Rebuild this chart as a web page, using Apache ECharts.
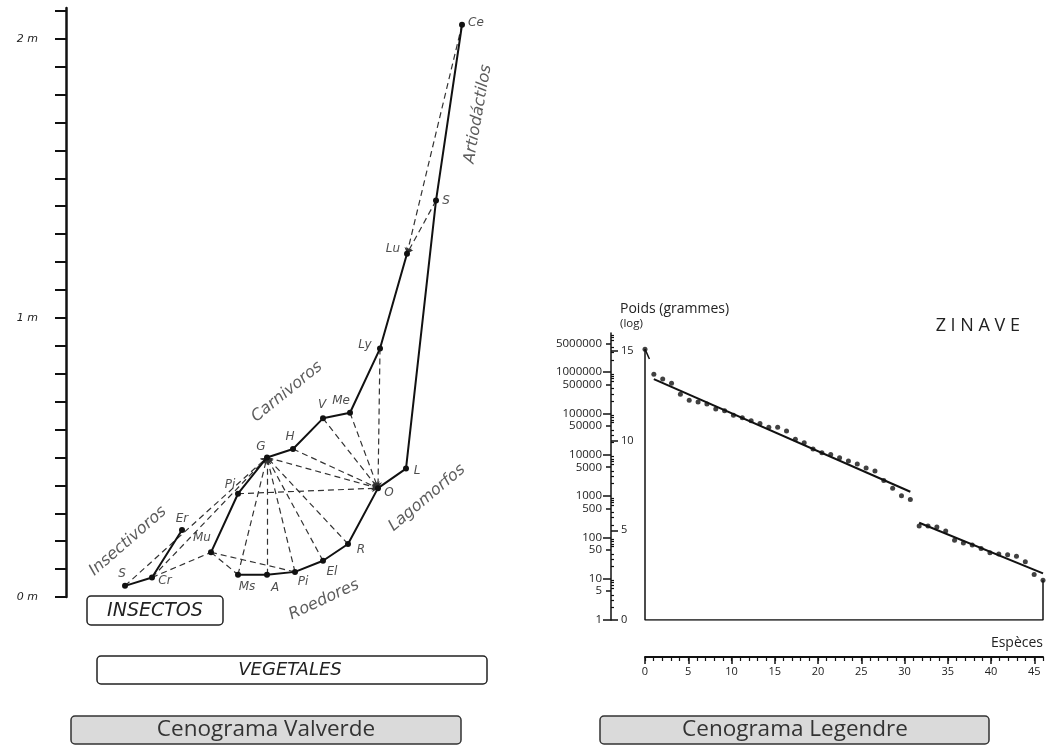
<!DOCTYPE html>
<html><head><meta charset="utf-8">
<script src="https://cdn.jsdelivr.net/npm/echarts@6/dist/echarts.min.js"></script>
<style>html,body{margin:0;padding:0;background:#fff}#c{width:1049px;height:753px}</style>
</head><body><div id="c"></div>
<script>
// ================= Cenograma Valverde (left) =================
const nodeIds     = ['S1','Cr','Er','Mu','Pi1','G','H','V','Me','Ly','Lu','Ms','A','Pi2','El','R','O','L','S2','Ce'];
const nodeNames   = ['S','Cr','Er','Mu','Pi','G','H','V','Me','Ly','Lu','Ms','A','Pi','El','R','O','L','S','Ce'];
const nodeRank    = [5.9,8.6,11.6,14.5,17.2,20.1,22.7,25.7,28.4,31.4,34.1,17.2,20.1,22.9,25.7,28.2,31.2,34.0,37.0,39.6];
const nodeHeightM = [0.04,0.07,0.24,0.16,0.37,0.50,0.53,0.64,0.66,0.89,1.23,0.08,0.08,0.09,0.13,0.19,0.39,0.46,1.42,2.05];

const chainInsectivores = ['S1','Cr','Er'];
const chainCarnivores   = ['Mu','Pi1','G','H','V','Me','Ly','Lu'];
const chainHerbivores   = ['Ms','A','Pi2','El','R','O','L','S2','Ce'];

const preyArrowEdges = [['S1','G'],['Cr','G'],['Ms','G'],['A','G'],['Pi2','G'],['El','G'],['R','G'],
  ['Pi1','O'],['G','O'],['H','O'],['V','O'],['Me','O'],['Ly','O'],['Ce','Lu'],['S2','Lu']];
const preyPlainEdges = [['Cr','Mu'],['Mu','Ms'],['Mu','Pi2']];

const heightTicksM  = [0,0.1,0.2,0.3,0.4,0.5,0.6,0.7,0.8,0.9,1.0,1.1,1.2,1.3,1.4,1.5,1.6,1.7,1.8,1.9,2.0,2.1];
const heightLabelsM = [0,1,2];

const groupNames = ['Insectivoros','Carnivoros','Roedores','Lagomorfos','Artiodáctilos'];
const groupRank  = [6.2,22.1,25.8,36.1,41.2];
const groupHeight= [0.20,0.735,-0.01,0.355,1.73];

// ================= Cenograma Legendre (right) =================
const firstSpecies = 1;
const firstLnWeight = 15.1;
const group1Species = [2,3,4,5,6,7,8,9,10,11,12,13,14,15,16,17,18,19,20,21,22,23,24,25,26,27,28,29,30,31];
const group1LnWeight = [13.70,13.44,13.20,12.58,12.25,12.15,12.04,11.76,11.66,11.41,11.27,11.11,10.96,10.75,10.74,
  10.53,10.07,9.88,9.53,9.32,9.23,9.04,8.87,8.69,8.48,8.31,7.78,7.35,6.92,6.72];
const group2Species = [32,33,34,35,36,37,38,39,40,41,42,43,44,45,46];
const group2LnWeight = [5.24,5.24,5.18,4.96,4.44,4.29,4.18,3.99,3.75,3.68,3.64,3.55,3.25,2.53,2.22];
const regression1 = [[2,13.43],[31,7.15]];
const regression2 = [[32,5.42],[46,2.60]];
const firstStroke = [[1,15.1],[1.5,14.55]];

const lnTickLabels = [0,5,10,15];
const gramLabels = ['1','5','10','50','100','500','1000','5000','10000','50000','100000','500000','1000000','5000000'];
const gramDecades = [1,10,100,1000,10000,100000,1000000];
const gramHalfDecades = [5,50,500,5000,50000,500000,5000000];
const gramMinorMultipliers = [2,3,4,6,7,8,9];
const speciesTicks = [0,1,2,3,4,5,6,7,8,9,10,11,12,13,14,15,16,17,18,19,20,21,22,23,24,25,26,27,28,29,30,31,32,33,34,35,36,37,38,39,40,41,42,43,44,45,46];
const speciesLabels = [0,5,10,15,20,25,30,35,40,45];

// ---------------- helpers ----------------
const idx = id => nodeIds.indexOf(id);
const pt = id => [nodeRank[idx(id)], nodeHeightM[idx(id)]];
const labelOffsets = {S1:[-3,-12],Cr:[13,3],Er:[0,-11],Mu:[-9,-14],Pi1:[-8,-9],G:[-6,-11],H:[-3,-12],V:[-1,-13],
  Me:[-9,-12],Ly:[-15,-4],Lu:[-14,-5],Ms:[9,12],A:[8,13],Pi2:[8,10],El:[9,11],R:[13,6],O:[11,5],L:[11,2],S2:[10,0],Ce:[14,-2]};
const groupRotate = [41,39,25,40,80];

const hand = {fontFamily:'DejaVu Sans', fontStyle:'italic', color:'#222'};
const sans = 'Open Sans';

const gramMinor = [];
gramDecades.forEach(d => gramMinorMultipliers.forEach(m => { if (Math.log(d*m) < 16) gramMinor.push(Math.log(d*m)); }));

function chainSeries(chain){
  return {type:'line', xAxisIndex:0, yAxisIndex:0, data: chain.map(pt), symbol:'circle', symbolSize:6,
    itemStyle:{color:'#111'}, lineStyle:{color:'#111', width:2}, z:5, animation:false};
}

const series = [
  {type:'lines', coordinateSystem:'cartesian2d', xAxisIndex:0, yAxisIndex:0, symbol:['none','arrow'], symbolSize:6,
    lineStyle:{color:'#333', width:1.2, type:[6,4], opacity:1},
    data: preyArrowEdges.map(e => ({coords:[pt(e[0]), pt(e[1])]})), z:3},
  {type:'lines', coordinateSystem:'cartesian2d', xAxisIndex:0, yAxisIndex:0, symbol:['none','none'],
    lineStyle:{color:'#333', width:1.2, type:[6,4], opacity:1},
    data: preyPlainEdges.map(e => ({coords:[pt(e[0]), pt(e[1])]})), z:3},
  chainSeries(chainInsectivores), chainSeries(chainCarnivores), chainSeries(chainHerbivores),
  {type:'scatter', xAxisIndex:0, yAxisIndex:0, symbolSize:0, clip:false, z:6,
    data: nodeIds.map((id,i) => ({value:pt(id), name:nodeNames[i],
      label:{show:true, position:'inside', offset:labelOffsets[id], formatter:nodeNames[i], fontSize:12, ...hand}}))},
  {type:'scatter', xAxisIndex:0, yAxisIndex:0, symbolSize:0, clip:false, z:6,
    data: groupNames.map((g,i) => ({value:[groupRank[i], groupHeight[i]],
      label:{show:true, position:'inside', rotate:groupRotate[i], formatter:g, fontSize:16, ...hand, color:'#333'}}))},

  // right chart
  {type:'line', xAxisIndex:1, yAxisIndex:1, symbol:'none', lineStyle:{color:'#111', width:1.5},
    data:[[firstSpecies, firstLnWeight],[firstSpecies,0],[group2Species[group2Species.length-1],0],
          [group2Species[group2Species.length-1], group2LnWeight[group2LnWeight.length-1]]]},
  {type:'line', xAxisIndex:1, yAxisIndex:1, symbol:'none', lineStyle:{color:'#111', width:1.5}, data:firstStroke},
  {type:'line', xAxisIndex:1, yAxisIndex:1, symbol:'none', lineStyle:{color:'#111', width:2}, data:regression1},
  {type:'line', xAxisIndex:1, yAxisIndex:1, symbol:'none', lineStyle:{color:'#111', width:2}, data:regression2},
  {type:'scatter', xAxisIndex:1, yAxisIndex:1, symbolSize:5, itemStyle:{color:'#111'}, clip:false,
    data: [[firstSpecies, firstLnWeight]]
      .concat(group1Species.map((s,i)=>[s, group1LnWeight[i]]))
      .concat(group2Species.map((s,i)=>[s, group2LnWeight[i]]))}
];

const noSplit = {show:false};
const option = {
  animation:false,
  backgroundColor:'#fff',
  grid:[
    {left:66, top:8, width:420, height:589},
    {left:645, top:333, width:398, height:287},
    {left:645, top:620, width:398, height:37}
  ],
  xAxis:[
    {gridIndex:0, type:'value', min:0, max:42, show:false, splitLine:noSplit},
    {gridIndex:1, type:'value', min:1, max:46, show:false, splitLine:noSplit},
    {gridIndex:2, type:'value', min:0, max:46, position:'bottom', splitLine:noSplit,
      axisLine:{show:true, lineStyle:{color:'#111', width:2}},
      axisTick:{show:true, customValues:speciesLabels, length:7, lineStyle:{color:'#111', width:1.5}},
      axisLabel:{customValues:speciesLabels, margin:9, fontSize:11, fontFamily:sans, color:'#222'}},
    {gridIndex:2, type:'value', min:0, max:46, position:'bottom', splitLine:noSplit,
      axisLine:{show:false},
      axisTick:{show:true, customValues:speciesTicks, length:4, lineStyle:{color:'#111', width:1.2}},
      axisLabel:{show:false}}
  ],
  yAxis:[
    {gridIndex:0, type:'value', min:0, max:2.11, position:'left', splitLine:noSplit,
      axisLine:{show:true, lineStyle:{color:'#111', width:2.5}},
      axisTick:{show:true, customValues:heightTicksM, length:11, lineStyle:{color:'#111', width:2}},
      axisLabel:{customValues:heightLabelsM, formatter:v=>v+' m', margin:28, fontSize:11, verticalAlign:'middle',
        padding:[0,0,8,0], ...hand}},
    {gridIndex:1, type:'value', min:0, max:16, position:'left', offset:34, splitLine:noSplit,
      axisLine:{show:true, lineStyle:{color:'#111', width:1.5}},
      axisTick:{show:true, inside:true, customValues:lnTickLabels, length:7, lineStyle:{color:'#111', width:1.5}},
      axisLabel:{inside:true, customValues:lnTickLabels, margin:10, fontSize:11, fontFamily:sans, color:'#222'}},
    {gridIndex:1, type:'value', min:0, max:16, position:'left', offset:34, splitLine:noSplit,
      axisLine:{show:false},
      axisTick:{show:true, customValues:gramDecades.map(Math.log), length:8, lineStyle:{color:'#111', width:1.5}},
      axisLabel:{customValues:gramLabels.map(s=>Math.log(+s)), formatter:v=>String(Math.round(Math.exp(v))),
        margin:9, fontSize:11.5, fontFamily:sans, color:'#222'}},
    {gridIndex:1, type:'value', min:0, max:16, position:'left', offset:34, splitLine:noSplit,
      axisLine:{show:false},
      axisTick:{show:true, customValues:gramHalfDecades.map(Math.log), length:5, lineStyle:{color:'#111', width:1.5}},
      axisLabel:{show:false}},
    {gridIndex:1, type:'value', min:0, max:16, position:'left', offset:34, splitLine:noSplit,
      axisLine:{show:false},
      axisTick:{show:true, inside:true, customValues:gramMinor, length:3, lineStyle:{color:'#111', width:1.2}},
      axisLabel:{show:false}},
    {gridIndex:2, type:'value', show:false, splitLine:noSplit}
  ],
  graphic:[
    {type:'rect', shape:{x:87, y:596, width:136, height:29, r:4}, style:{fill:'#fff', stroke:'#222', lineWidth:1.5}},
    {type:'text', x:155, y:611, style:{text:'INSECTOS', font:'italic 19px "DejaVu Sans"', fill:'#222', align:'center', verticalAlign:'middle'}},
    {type:'rect', shape:{x:97, y:656, width:390, height:28, r:4}, style:{fill:'#fff', stroke:'#222', lineWidth:1.5}},
    {type:'text', x:290, y:670, style:{text:'VEGETALES', font:'italic 18px "DejaVu Sans"', fill:'#222', align:'center', verticalAlign:'middle'}},
    {type:'rect', shape:{x:71, y:716, width:390, height:28, r:4}, style:{fill:'#dadada', stroke:'#333', lineWidth:1.5}},
    {type:'text', x:266, y:730, style:{text:'Cenograma Valverde', font:'22.5px "Open Sans"', fill:'#333', align:'center', verticalAlign:'middle'}},
    {type:'rect', shape:{x:600, y:716, width:389, height:28, r:4}, style:{fill:'#dadada', stroke:'#333', lineWidth:1.5}},
    {type:'text', x:795, y:730, style:{text:'Cenograma Legendre', font:'22.5px "Open Sans"', fill:'#333', align:'center', verticalAlign:'middle'}},
    {type:'text', x:620, y:309, style:{text:'Poids (grammes)', font:'14px "Open Sans"', fill:'#222', align:'left', verticalAlign:'middle'}},
    {type:'text', x:620, y:324, style:{text:'(log)', font:'11.5px "Open Sans"', fill:'#222', align:'left', verticalAlign:'middle'}},
    {type:'text', x:1020, y:326, style:{text:'Z I N A V E', font:'18px "Open Sans"', fill:'#222', align:'right', verticalAlign:'middle'}},
    {type:'text', x:1043, y:643, style:{text:'Espèces', font:'14px "Open Sans"', fill:'#222', align:'right', verticalAlign:'middle'}}
  ],
  series
};
const chart = echarts.init(document.getElementById('c'), null, {renderer:'canvas'});
chart.setOption(option);
</script></body></html>
